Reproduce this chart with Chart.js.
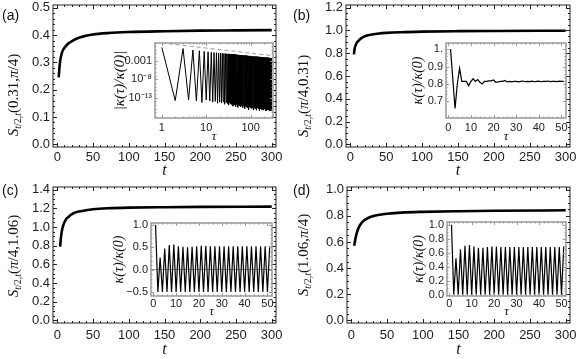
<!DOCTYPE html>
<html><head><meta charset="utf-8">
<script src="https://cdn.jsdelivr.net/npm/chart.js@4.4.1/dist/chart.umd.min.js"></script>
<style>
html,body{margin:0;padding:0;background:#fff;}
#wrap{position:relative;width:581px;height:359px;overflow:hidden;background:#fff;}
canvas{position:absolute;left:0;top:0;}
.lbl{position:absolute;white-space:nowrap;color:#111;line-height:16px;}
.yt{font-family:'Liberation Serif','DejaVu Serif',serif;font-size:15px;transform:translate(-50%,-50%) rotate(-90deg);}
.yt sub{font-size:10px;vertical-align:-3px;line-height:0;}
.pl{font-family:'Liberation Sans',Arial,sans-serif;font-size:14px;transform:translate(0,-50%);}
</style></head><body>
<div id="wrap">
<canvas id="cA" width="581" height="359"></canvas>
<canvas id="cB" width="581" height="359"></canvas>
<canvas id="cC" width="581" height="359"></canvas>
<canvas id="cD" width="581" height="359"></canvas>
<canvas id="iA" width="581" height="359"></canvas>
<canvas id="iB" width="581" height="359"></canvas>
<canvas id="iC" width="581" height="359"></canvas>
<canvas id="iD" width="581" height="359"></canvas>
<div class="lbl pl" style="left:2px;top:15px">(a)</div>
<div class="lbl pl" style="left:293px;top:15px">(b)</div>
<div class="lbl pl" style="left:2px;top:190px">(c)</div>
<div class="lbl pl" style="left:293px;top:190px">(d)</div>
<div class="lbl yt" style="left:13px;top:95px"><i>S</i><sub><i>t</i>/2,<i>t</i></sub>(0.31,<i>π</i>/4)</div>
<div class="lbl yt" style="left:303px;top:96px"><i>S</i><sub><i>t</i>/2,<i>t</i></sub>(<i>π</i>/4,0.31)</div>
<div class="lbl yt" style="left:13px;top:256px"><i>S</i><sub><i>t</i>/2,<i>t</i></sub>(<i>π</i>/4,1.06)</div>
<div class="lbl yt" style="left:303px;top:255px"><i>S</i><sub><i>t</i>/2,<i>t</i></sub>(1.06,<i>π</i>/4)</div>
</div>
<script>
// ================= DATA =================
// main panels: time t and S values
const tA = [2, 3, 4, 6, 8, 10, 15, 20, 30, 40, 50, 70, 100, 150, 200, 250, 300];
const sA = [0.245, 0.28, 0.305, 0.33, 0.345, 0.353, 0.368, 0.377, 0.39, 0.397, 0.402, 0.407, 0.411, 0.414, 0.416, 0.417, 0.418];
const tB = [5, 6, 8, 10, 13, 16, 20, 25, 30, 40, 50, 70, 100, 150, 200, 300];
const sB = [0.79, 0.84, 0.88, 0.90, 0.92, 0.935, 0.948, 0.958, 0.965, 0.974, 0.979, 0.985, 0.99, 0.994, 0.996, 0.998];
const tC = [4, 5, 6, 8, 10, 13, 16, 20, 25, 30, 40, 50, 70, 100, 150, 200, 300];
const sC = [0.79, 0.88, 0.94, 1.01, 1.05, 1.09, 1.11, 1.135, 1.155, 1.165, 1.18, 1.19, 1.2, 1.207, 1.212, 1.215, 1.218];
const tD = [4, 5, 6, 8, 10, 13, 16, 20, 25, 30, 40, 50, 70, 100, 150, 200, 300];
const sD = [0.57, 0.6, 0.63, 0.675, 0.705, 0.735, 0.755, 0.772, 0.787, 0.797, 0.808, 0.815, 0.824, 0.83, 0.835, 0.838, 0.842];

// inset (a): log10 |kappa(tau)/kappa(0)| at odd tau (1,3,...,299) and even tau (2,4,...,300)
const logPeakA = [
 0.6, 0.3, -0.1, -0.3, -0.45, -0.6, -0.7, -0.78, -0.84, -0.9,
 -0.95, -0.99, -1.04, -1.07, -1.11, -1.14, -1.18, -1.21, -1.23, -1.26,
 -1.29, -1.31, -1.33, -1.36, -1.38, -1.40, -1.42, -1.44, -1.46, -1.47,
 -1.49, -1.51, -1.52, -1.54, -1.55, -1.57, -1.58, -1.59, -1.61, -1.62,
 -1.63, -1.65, -1.66, -1.67, -1.68, -1.69, -1.70, -1.72, -1.73, -1.74,
 -1.75, -1.76, -1.77, -1.78, -1.79, -1.79, -1.80, -1.81, -1.82, -1.83,
 -1.84, -1.85, -1.85, -1.86, -1.87, -1.88, -1.88, -1.89, -1.90, -1.91,
 -1.91, -1.92, -1.93, -1.93, -1.94, -1.95, -1.95, -1.96, -1.97, -1.97,
 -1.98, -1.98, -1.99, -2.00, -2.00, -2.01, -2.01, -2.02, -2.03, -2.03,
 -2.04, -2.04, -2.05, -2.05, -2.06, -2.06, -2.07, -2.07, -2.08, -2.08,
 -2.09, -2.09, -2.10, -2.10, -2.11, -2.11, -2.12, -2.12, -2.13, -2.13,
 -2.14, -2.14, -2.15, -2.15, -2.16, -2.16, -2.17, -2.17, -2.18, -2.18,
 -2.19, -2.19, -2.20, -2.20, -2.20, -2.21, -2.21, -2.22, -2.22, -2.22,
 -2.23, -2.23, -2.24, -2.24, -2.24, -2.25, -2.25, -2.26, -2.26, -2.26,
 -2.27, -2.27, -2.27, -2.28, -2.28, -2.29, -2.29, -2.29, -2.30, -2.30];
const logTroughA = [
 -13.8, -13.6, -13.9, -14.3, -13.6, -13.9, -14.2, -14.0, -14.5, -14.2,
 -14.4, -14.1, -14.8, -14.3, -14.6, -15.0, -14.4, -14.7, -14.9, -15.3,
 -14.6, -14.9, -15.4, -14.8, -15.1, -15.6, -14.9, -15.2, -15.0, -15.5,
 -15.3, -14.9, -15.7, -15.2, -15.0, -15.4, -16.0, -15.1, -15.3, -15.6,
 -15.0, -15.4, -15.8, -15.2, -15.5, -16.2, -15.1, -15.4, -15.7, -15.3,
 -15.6, -15.2, -15.9, -15.4, -15.1, -15.7, -16.3, -15.3, -15.5, -15.8,
 -15.2, -15.6, -16.0, -15.4, -15.3, -15.9, -15.5, -16.4, -15.3, -15.6,
 -15.8, -15.4, -15.2, -16.1, -15.5, -15.7, -15.3, -15.9, -16.5, -15.4,
 -15.6, -15.8, -15.3, -16.0, -15.5, -15.4, -16.2, -15.7, -15.5, -15.9,
 -15.4, -16.3, -15.6, -15.8, -15.5, -16.0, -15.4, -15.7, -16.4, -15.6,
 -15.5, -15.9, -15.7, -16.1, -15.4, -15.8, -16.5, -15.6, -15.7, -16.0,
 -15.5, -15.9, -16.2, -15.6, -15.8, -16.6, -15.7, -15.5, -16.0, -15.8,
 -15.6, -16.3, -15.9, -15.7, -16.1, -15.6, -16.4, -15.8, -15.7, -16.2,
 -15.9, -15.6, -16.5, -15.8, -16.0, -15.7, -16.3, -15.9, -15.8, -16.6,
 -15.7, -16.1, -15.9, -16.4, -15.8, -16.0, -16.2, -15.7, -16.5, -16.0];
// dashed bound in inset (a)
const boundTau = [1, 300];
const boundVal = [63, 0.025];

// insets (b),(c),(d): kappa(tau)/kappa(0) for tau = 1..51
const kB = [1.0, 0.83, 0.66, 0.80, 0.89, 0.815, 0.815, 0.815, 0.79, 0.815,
 0.83, 0.815, 0.825, 0.81, 0.80, 0.815, 0.815, 0.818, 0.818, 0.823,
 0.81, 0.812, 0.815, 0.815, 0.82, 0.812, 0.815, 0.812, 0.815, 0.815,
 0.812, 0.815, 0.817, 0.813, 0.815, 0.814, 0.816, 0.813, 0.815, 0.816,
 0.813, 0.815, 0.815, 0.817, 0.814, 0.815, 0.815, 0.814, 0.816, 0.815, 0.815];
const kC = [1.0, -0.5, 0.27, -0.5, 0.47, -0.5, 0.55, -0.5, 0.56, -0.5,
 0.52, -0.5, 0.51, -0.5, 0.50, -0.5, 0.51, -0.5, 0.52, -0.5,
 0.53, -0.5, 0.53, -0.5, 0.52, -0.5, 0.52, -0.5, 0.52, -0.5,
 0.52, -0.5, 0.52, -0.5, 0.52, -0.5, 0.52, -0.5, 0.52, -0.5,
 0.52, -0.5, 0.52, -0.5, 0.52, -0.5, 0.52, -0.5, 0.52, -0.5, 0.52];
const kD = [1.0, 0.0, 0.52, 0.0, 0.65, 0.0, 0.70, 0.0, 0.71, 0.0,
 0.69, 0.0, 0.67, 0.0, 0.67, 0.0, 0.68, 0.0, 0.69, 0.0,
 0.69, 0.0, 0.68, 0.0, 0.68, 0.0, 0.68, 0.0, 0.68, 0.0,
 0.68, 0.0, 0.68, 0.0, 0.68, 0.0, 0.68, 0.0, 0.68, 0.0,
 0.68, 0.0, 0.68, 0.0, 0.68, 0.0, 0.68, 0.0, 0.68, 0.0, 0.69];

// tick labels
const mainXTicks = [0, 50, 100, 150, 200, 250, 300];
const yTicksA = [0, 0.1, 0.2, 0.3, 0.4, 0.5];
const yTicksB = [0, 0.2, 0.4, 0.6, 0.8, 1.0, 1.2];
const yTicksC = [0, 0.2, 0.4, 0.6, 0.8, 1.0, 1.2, 1.4];
const yTicksD = [0, 0.2, 0.4, 0.6, 0.8, 1.0];
const insetXTicks = [0, 10, 20, 30, 40, 50];
const insetLogXTicks = [1, 10, 100];
const insetLogYTicks = [1e-13, 1e-8, 1e-3];
const insetYTicksB = [0.7, 0.8, 0.9, 1.0];
const insetYTicksC = [-0.5, 0, 0.5, 1.0];
const insetYTicksD = [0, 0.2, 0.4, 0.6, 0.8, 1.0];

// ================= RENDER =================
const W = 581, H = 359;
const SANS = "'Liberation Sans', Arial, sans-serif";
const SERIF = "'Liberation Serif', 'DejaVu Serif', serif";

const pts = (xs, ys) => xs.map((x, i) => ({x: x, y: ys[i]}));
const idx = n => Array.from({length: n}, (_, i) => i + 1);
function range(a, b, step) { const r = []; for (let v = a; v <= b + 1e-9; v += step) r.push(+v.toFixed(6)); return r; }

function framePlugin(o) {
  return {
    id: 'frame',
    afterDatasetsDraw(chart) {
      const {ctx, chartArea: a} = chart;
      const sx = chart.scales.x, sy = chart.scales.y;
      ctx.save();
      ctx.strokeStyle = o.color;
      ctx.lineWidth = 1;
      const drawT = (vals, len, horiz) => {
        ctx.beginPath();
        for (const v of vals) {
          if (horiz) {
            const p = Math.round(sx.getPixelForValue(v)) + 0.5;
            if (p < a.left || p > a.right) continue;
            ctx.moveTo(p, a.bottom); ctx.lineTo(p, a.bottom - len);
            ctx.moveTo(p, a.top); ctx.lineTo(p, a.top + len);
          } else {
            const p = Math.round(sy.getPixelForValue(v)) + 0.5;
            if (p < a.top || p > a.bottom) continue;
            ctx.moveTo(a.left, p); ctx.lineTo(a.left + len, p);
            ctx.moveTo(a.right, p); ctx.lineTo(a.right - len, p);
          }
        }
        ctx.stroke();
      };
      drawT(o.xMajor, o.major, true); drawT(o.xMinor, o.minor, true);
      drawT(o.yMajor, o.major, false); drawT(o.yMinor, o.minor, false);
      ctx.lineWidth = o.width;
      ctx.strokeRect(a.left, a.top, a.right - a.left, a.bottom - a.top);
      ctx.restore();
    }
  };
}

function axis(o, horiz) {
  return {
    type: o.type || 'linear', min: o.min, max: o.max, position: horiz ? 'bottom' : 'left',
    grid: { display: true, drawTicks: false, drawOnChartArea: !!o.zero,
            color: c => (o.zero && c.tick && c.tick.value === 0) ? o.zero : 'rgba(0,0,0,0)', lineWidth: 1 },
    border: { display: false },
    ticks: { autoSkip: false, maxRotation: 0, minRotation: 0, padding: o.pad, color: '#222',
             font: {family: SANS, size: o.fs}, callback: v => o.fmt(v) },
    title: o.title ? { display: true, text: o.title, color: '#111', padding: 0,
             font: {family: SERIF, size: o.tfs, style: 'italic'} } : {display: false},
    afterBuildTicks: s => { s.ticks = o.ticks.map(v => ({value: v})); },
    afterFit: s => {
      if (horiz) s.height = o.size; else s.width = o.size;
      s.paddingLeft = 0; s.paddingRight = 0; s.paddingTop = 0; s.paddingBottom = 0;
    }
  };
}

function mkChart(id, c) {
  return new Chart(document.getElementById(id), {
    type: 'line',
    data: { datasets: c.datasets },
    options: {
      responsive: false, animation: false, devicePixelRatio: 1, events: [],
      layout: { padding: { left: c.L - c.y.size, top: c.T, right: W - c.R, bottom: H - c.B - c.x.size } },
      plugins: { legend: {display: false}, tooltip: {enabled: false} },
      elements: { point: {radius: 0}, line: {tension: 0} },
      scales: { x: axis(c.x, true), y: axis(c.y, false) }
    },
    plugins: [framePlugin(c.frame)]
  });
}

const f1 = v => v.toFixed(1).replace('-', '\u2212');
const fi = v => String(v);
const mainLine = (t, s) => ({ data: pts(t, s), borderColor: '#000', borderWidth: 2.6, cubicInterpolationMode: 'monotone', fill: false });
const insetLine = (t, s, w) => ({ data: pts(t, s), borderColor: '#000', borderWidth: w || 1.2, fill: false });

function mainCfg(L, T, R, B, ticks, ymin, ymax, yMinorStep, tTitleY, xLabY, t, s) {
  return {
    L, T, R, B,
    x: { min: -6, max: 306, ticks: mainXTicks, fmt: fi, fs: 13, pad: xLabY - B - 7.8, size: tTitleY + 9.6 - B, title: 't', tfs: 16 },
    y: { min: ymin, max: ymax, ticks: ticks, fmt: f1, fs: 13, pad: 3, size: L - 30 },
    frame: { color: '#222', width: 1, major: 4, minor: 2, xMajor: mainXTicks, xMinor: range(0, 300, 10),
             yMajor: ticks, yMinor: range(0, ticks[ticks.length - 1], yMinorStep) },
    datasets: [mainLine(t, s)]
  };
}

mkChart('cA', mainCfg(53, 5, 276, 147, yTicksA, -0.01, 0.51, 0.02, 171, 157, tA, sA));
mkChart('cB', mainCfg(346, 5, 570, 147, yTicksB, -0.024, 1.224, 0.05, 171, 157, tB, sB));
mkChart('cC', mainCfg(53, 187, 276, 323, yTicksC, -0.028, 1.428, 0.05, 350, 335, tC, sC));
mkChart('cD', mainCfg(347, 187, 570, 323, yTicksD, -0.02, 1.02, 0.05, 350, 335, tD, sD));

// inset (a): log-log
const tauA = [], valA = [];
for (let i = 0; i < logPeakA.length; i++) {
  tauA.push(2 * i + 1); valA.push(Math.pow(10, logPeakA[i]));
  tauA.push(2 * i + 2); valA.push(Math.pow(10, logTroughA[i]));
}
const supMap = {'-3': '0.001', '-8': '10\u207B\u2078', '-13': '10\u207B\u00B9\u00B3'};
const logMinorX = [2,3,4,5,6,7,8,9,20,30,40,50,60,70,80,90,200,300];
const logMinorY = [];
for (let e = -18; e <= 1; e++) logMinorY.push(Math.pow(10, e));
mkChart('iA', {
  L: 155, T: 43, R: 273, B: 118,
  x: { type: 'logarithmic', min: 0.72, max: 320, ticks: insetLogXTicks, fmt: fi, fs: 11, pad: 3, size: 26.8, title: '\u03C4', tfs: 13 },
  y: { type: 'logarithmic', min: Math.pow(10, -18.5), max: Math.pow(10, 1.8), ticks: insetLogYTicks,
       fmt: v => supMap[String(Math.round(Math.log10(v)))], fs: 11, pad: 3, size: 44, title: '|\u03BA(\u03C4)/\u03BA(0)|', tfs: 15 },
  frame: { color: '#999', width: 1.5, major: 3, minor: 1.5, xMajor: insetLogXTicks, xMinor: logMinorX, yMajor: insetLogYTicks, yMinor: logMinorY },
  datasets: [
    { data: pts(boundTau, boundVal), borderColor: '#999', borderWidth: 1, borderDash: [4, 3], fill: false },
    insetLine(tauA, valA, 1)
  ]
});

const tau51 = idx(51);
function insetCfg(L, T, R, B, ymin, ymax, yt, yMinorStep, xLabY, tauY, yW, k, zero) {
  return {
    L, T, R, B,
    x: { min: -1, max: 52, ticks: insetXTicks, fmt: fi, fs: 11, pad: xLabY - B - 6.6, size: tauY + 7.8 - B, title: '\u03C4', tfs: 13 },
    y: { min: ymin, max: ymax, ticks: yt, fmt: yt === insetYTicksB ? (v => v === 1 ? '1.' : v.toFixed(1)) : f1,
         fs: 11, pad: 3, size: yW, title: '\u03BA(\u03C4)/\u03BA(0)', tfs: 14, zero: zero },
    frame: { color: '#999', width: 1.5, major: 3, minor: 1.5, xMajor: insetXTicks, xMinor: range(0, 50, 2),
             yMajor: yt, yMinor: range(yt[0], yt[yt.length - 1], yMinorStep) },
    datasets: [insetLine(tau51, k)]
  };
}
mkChart('iB', insetCfg(446, 43, 566, 118, 0.605, 1.035, insetYTicksB, 0.02, 127.5, 137, 36, kB));
mkChart('iC', insetCfg(151, 223, 272, 296, -0.59, 1.04, insetYTicksC, 0.1, 304, 312, 40, kC, '#999'));
mkChart('iD', insetCfg(447, 222, 566, 296, -0.02, 1.04, insetYTicksD, 0.05, 304, 312, 36, kD));
</script>
</body></html>
